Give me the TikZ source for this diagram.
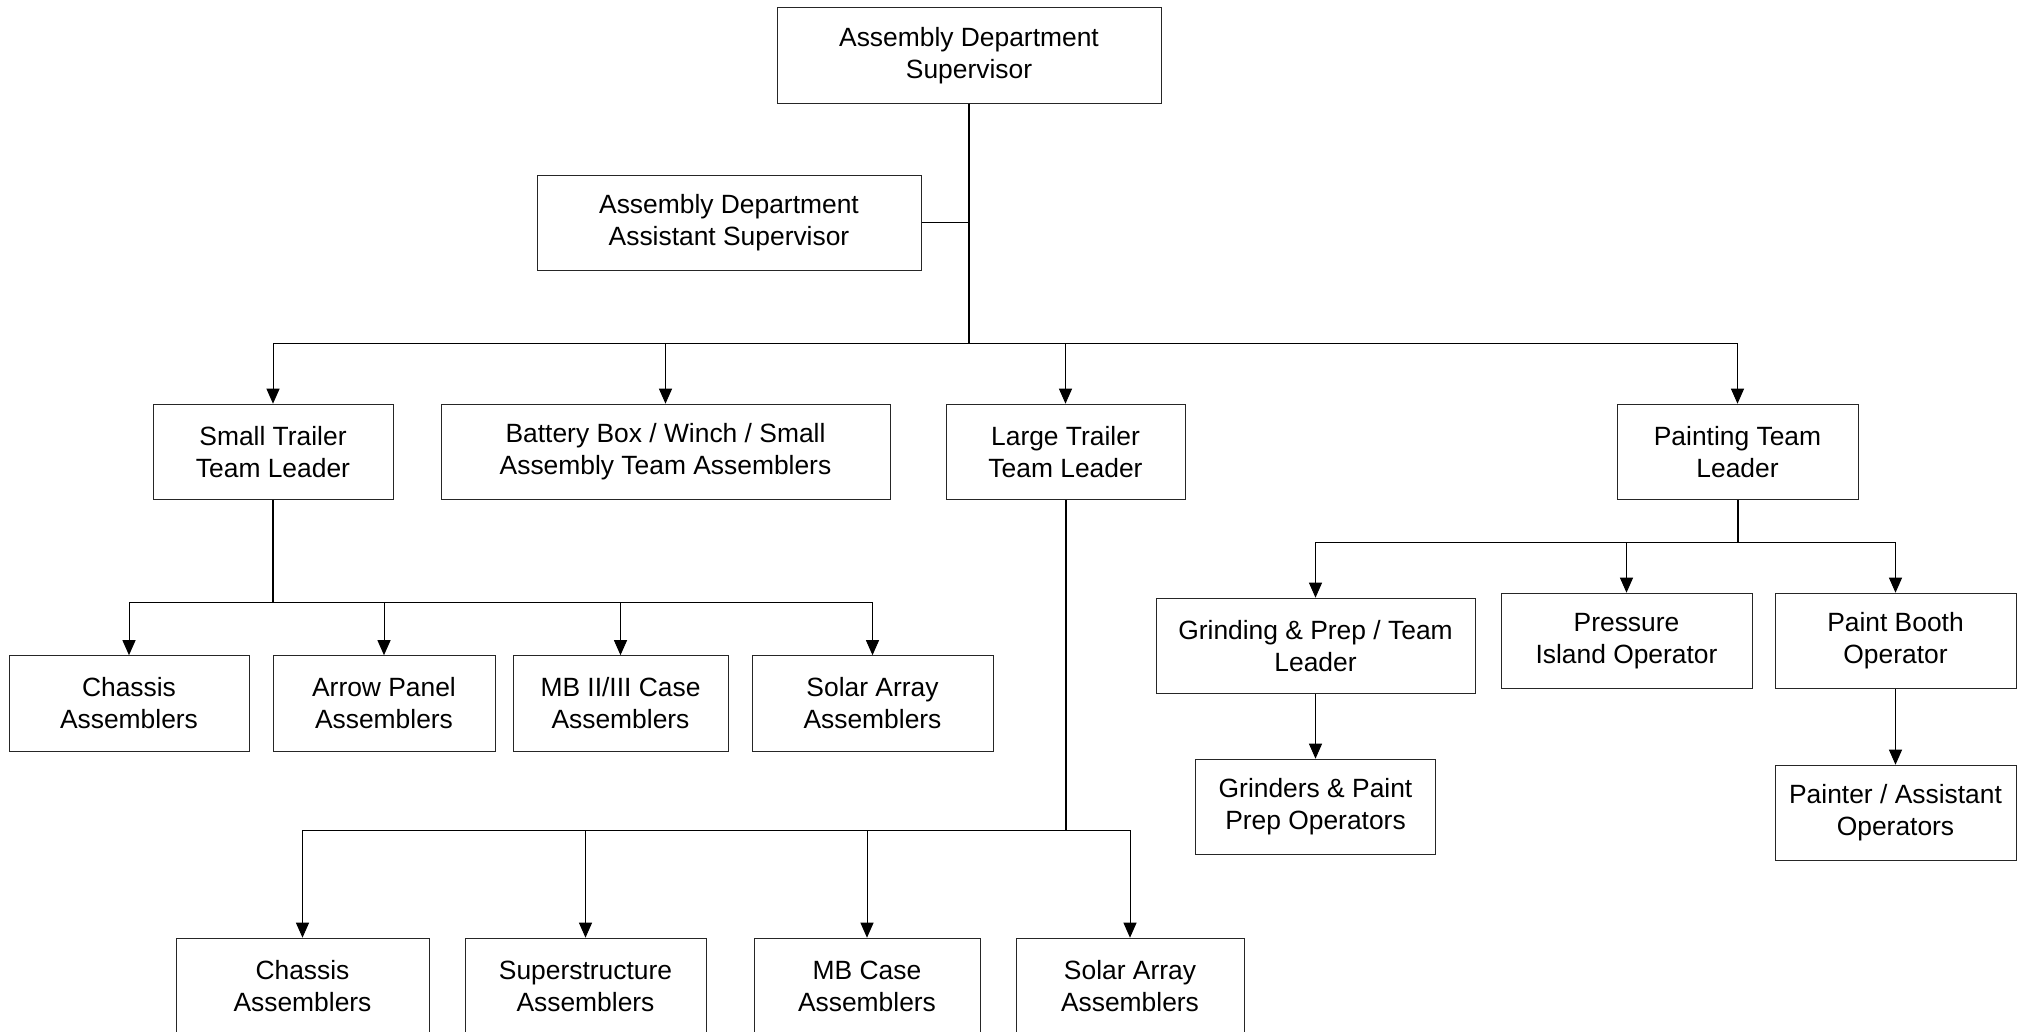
\documentclass[tikz,border=0pt]{standalone}
\usepackage{fontspec}
\setmainfont{Liberation Sans}
\usetikzlibrary{arrows.meta}
\tikzset{
  box/.style={draw=black!85, line width=0.5pt, rectangle, inner sep=0pt, align=center,
    font=\fontsize{13.2pt}{16pt}\selectfont, minimum height=47.8pt},
  link/.style={draw=black, line width=0.5pt},
  arr/.style={link, -{Triangle[length=7.5pt,width=6.5pt]}},
  trunk/.style={draw=black, line width=1pt}
}
\begin{document}
\begin{tikzpicture}[x=0.5pt,y=-0.5pt]
\useasboundingbox (0,0) rectangle (2020,1032);
\clip (0,0) rectangle (2020,1032);
% level 0/1
\node[box, minimum width=192pt] (top) at (969,55.5) {Assembly Department\\Supervisor};
\node[box, minimum width=192pt] (asst) at (729,223) {Assembly Department\\Assistant Supervisor};
% level 2
\node[box, minimum width=120pt] (st) at (273,452) {Small Trailer\\Team Leader};
\node[box, minimum width=224.5pt] (bb) at (665.5,452) {Battery Box / Winch / Small\\Assembly Team Assemblers};
\node[box, minimum width=119.5pt] (lt) at (1065.5,452) {Large Trailer\\Team Leader};
\node[box, minimum width=120.5pt] (pt) at (1737.5,452) {Painting Team\\Leader};
% small trailer children
\node[box, minimum width=120pt] (c1) at (129,703.5) {Chassis\\Assemblers};
\node[box, minimum width=111pt] (ap) at (384,703.5) {Arrow Panel\\Assemblers};
\node[box, minimum width=107.5pt] (mb) at (620.5,703.5) {MB II/III Case\\Assemblers};
\node[box, minimum width=120.5pt] (sa) at (872.5,703.5) {Solar Array\\Assemblers};
% large trailer children
\node[box, minimum width=126.5pt] (c2) at (302.5,986) {Chassis\\Assemblers};
\node[box, minimum width=120.5pt] (ss) at (585.5,986) {Superstructure\\Assemblers};
\node[box, minimum width=113pt] (mbc) at (867,986) {MB Case\\Assemblers};
\node[box, minimum width=114pt] (sa2) at (1130,986) {Solar Array\\Assemblers};
% painting children
\node[box, minimum width=159.5pt] (gp) at (1315.5,646) {Grinding \& Prep / Team\\Leader};
\node[box, minimum width=125.5pt] (pio) at (1626.5,641) {Pressure\\Island Operator};
\node[box, minimum width=120.5pt] (pbo) at (1895.5,641) {Paint Booth\\Operator};
\node[box, minimum width=120pt] (gpo) at (1315.5,807) {Grinders \& Paint\\Prep Operators};
\node[box, minimum width=120.5pt] (pao) at (1895.5,813) {Painter / Assistant\\Operators};
% bus coordinates
\coordinate (b0) at (969,344);
\coordinate (b1) at (273,602);
\coordinate (b2) at (1065.5,830);
\coordinate (b3) at (1737.5,542);
% connectors from top
\draw[trunk] (top.south) -- (b0);
\draw[link] (asst.east) -- (asst.east -| top.south);
\foreach \c in {st,bb,lt,pt} \draw[arr] (top.south) -- (b0) -| (\c.north);
% small trailer
\draw[trunk] (st.south) -- (b1);
\foreach \c in {c1,ap,mb,sa} \draw[arr] (st.south) -- (b1) -| (\c.north);
% large trailer
\draw[trunk] (lt.south) -- (b2);
\foreach \c in {c2,ss,mbc,sa2} \draw[arr] (lt.south) -- (b2) -| (\c.north);
% painting
\draw[trunk] (pt.south) -- (b3);
\foreach \c in {gp,pio,pbo} \draw[arr] (pt.south) -- (b3) -| (\c.north);
\draw[arr] (gp.south) -- (gpo.north);
\draw[arr] (pbo.south) -- (pao.north);
\end{tikzpicture}
\end{document}
